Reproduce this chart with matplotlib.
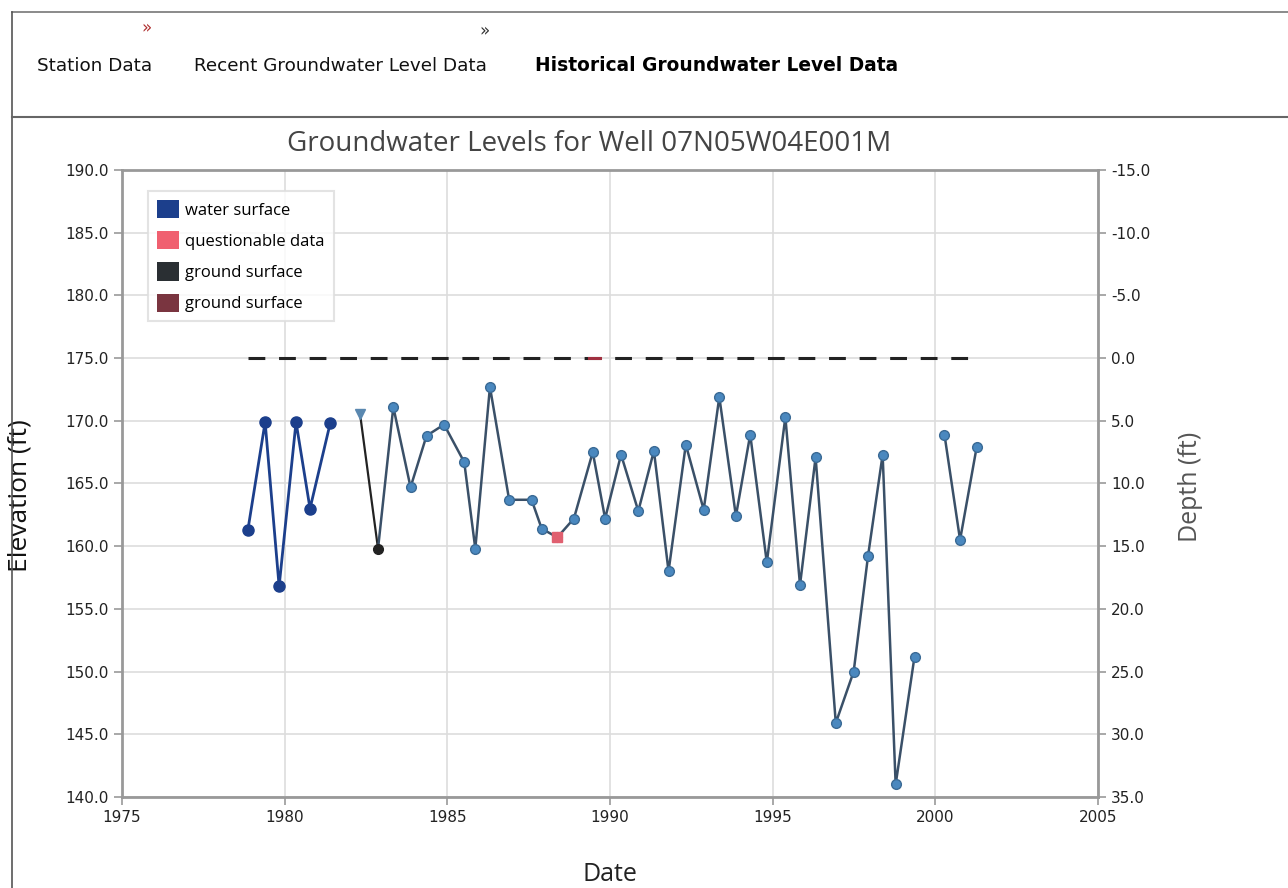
import matplotlib
matplotlib.use("Agg")
import matplotlib.pyplot as plt
from matplotlib.patches import Patch
from matplotlib.lines import Line2D

# ── data (decimal year, elevation ft) ─────────────────────────────
EARLY_YEARS = [1978.87, 1979.40, 1979.83, 1980.35, 1980.78, 1981.40]
EARLY_ELEV  = [161.3, 169.9, 156.8, 169.9, 163.0, 169.8]

GAP_YEARS = [1982.32, 1982.87]
GAP_ELEV  = [170.5, 159.8]

MAIN_YEARS = [1982.87, 1983.34, 1983.87, 1984.36, 1984.90, 1985.52, 1985.86,
              1986.31, 1986.90, 1987.59, 1987.90, 1988.38, 1988.89, 1989.47,
              1989.85, 1990.34, 1990.87, 1991.35, 1991.80, 1992.33, 1992.88,
              1993.36, 1993.87, 1994.31, 1994.82, 1995.39, 1995.84, 1996.32,
              1996.94, 1997.49, 1997.93, 1998.38, 1998.78, 1999.36]
MAIN_ELEV  = [159.8, 171.1, 164.7, 168.8, 169.7, 166.7, 159.8,
              172.7, 163.7, 163.7, 161.4, 160.7, 162.2, 167.5,
              162.2, 167.3, 162.8, 167.6, 158.0, 168.1, 162.9,
              171.9, 162.4, 168.9, 158.7, 170.3, 156.9, 167.1,
              145.9, 150.0, 159.2, 167.3, 141.0, 151.2]

LATE_YEARS = [2000.28, 2000.76, 2001.27]
LATE_ELEV  = [168.9, 160.5, 167.9]

QUEST_YEARS = [1988.38]
QUEST_ELEV  = [160.7]

GROUND_START = 1978.87
GROUND_END   = 2001.27
GROUND_ELEV  = 175.0
GROUND_QUEST = [1989.35, 1989.70]

Y_TICKS = [140, 145, 150, 155, 160, 165, 170, 175, 180, 185, 190]
DEPTH_TICKS = [35, 30, 25, 20, 15, 10, 5, 0, -5, -10, -15]
X_TICKS = [1975, 1980, 1985, 1990, 1995, 2000, 2005]

TICK_FONT = ["DejaVu Sans"]
TITLE_FONT = ["Open Sans", "DejaVu Sans"]

fig = plt.figure(figsize=(12.88, 8.88), dpi=100)

# ── page header (tabs) ───────────────────────────────────────────
fig.add_artist(Line2D([0.009, 1.0], [0.986, 0.986], color="#777777", lw=1.2))
fig.add_artist(Line2D([0.009, 0.009], [0.0, 0.986], color="#555555", lw=1.2))
fig.add_artist(Line2D([0.009, 1.0], [0.868, 0.868], color="#666666", lw=1.5))
fig.text(0.029, 0.926, "Station Data", fontsize=13.2, family=TICK_FONT,
         va="center", color="#111111")
fig.text(0.151, 0.926, "Recent Groundwater Level Data", fontsize=13.2,
         family=TICK_FONT, va="center", color="#111111")
fig.text(0.415, 0.926, "Historical Groundwater Level Data", fontsize=13.4,
         family=TICK_FONT, fontweight="bold", va="center", color="#000000")
fig.text(0.110, 0.968, "\u00bb", fontsize=12, color="#b03030", va="center")
fig.text(0.372, 0.965, "\u00bb", fontsize=12, color="#333333", va="center")

# ── chart ────────────────────────────────────────────────────────
ax = fig.add_axes([0.0947, 0.1025, 0.7578, 0.7061])
ax.set_xlim(1975, 2005)
ax.set_ylim(140, 190)
ax.set_xticks(X_TICKS)
ax.set_yticks(Y_TICKS)
ax.set_yticklabels([f"{v:.1f}" for v in Y_TICKS])
ax.grid(True, color="#dddddd", lw=1.2)
ax.set_axisbelow(True)
for s in ax.spines.values():
    s.set_color("#999999")
    s.set_linewidth(2)
ax.tick_params(axis="both", colors="#999999", labelcolor="#222222",
               labelsize=11, length=6, width=1.2)
for lab in ax.get_xticklabels() + ax.get_yticklabels():
    lab.set_family(TICK_FONT)

# ground surface dashes
ax.plot([GROUND_START, GROUND_END], [GROUND_ELEV, GROUND_ELEV],
        color="#222222", lw=2.2, linestyle=(0, (5.5, 4.5)), zorder=3)
ax.plot(GROUND_QUEST, [GROUND_ELEV, GROUND_ELEV], color="#a03040",
        lw=2.2, zorder=4)

ax.plot(EARLY_YEARS, EARLY_ELEV, color="#1c3f8c", lw=2, marker="o",
        markersize=8, zorder=5)
ax.plot(GAP_YEARS, GAP_ELEV, color="#222222", lw=1.6, zorder=4)
ax.plot(GAP_YEARS[:1], GAP_ELEV[:1], marker="v", color="#5a88b0",
        markersize=7, zorder=5)
ax.plot(GAP_YEARS[1:], GAP_ELEV[1:], marker="o", color="#222222",
        markersize=7, zorder=6)
ax.plot(MAIN_YEARS, MAIN_ELEV, color="#3a5068", lw=1.8, zorder=4)
ax.plot(MAIN_YEARS[1:], MAIN_ELEV[1:], linestyle="none", marker="o",
        markersize=7, markerfacecolor="#4a88bf", markeredgecolor="#3a6a95",
        zorder=5)
ax.plot(LATE_YEARS, LATE_ELEV, color="#3a5068", lw=1.8, marker="o",
        markersize=7, markerfacecolor="#4a88bf", markeredgecolor="#3a6a95",
        zorder=5)
ax.plot(QUEST_YEARS, QUEST_ELEV, linestyle="none", marker="s",
        markersize=7, color="#e06070", zorder=6)

ax.set_title("Groundwater Levels for Well 07N05W04E001M", fontsize=20,
             family=TITLE_FONT, color="#444444", pad=14, x=0.479)
ax.set_xlabel("Date", fontsize=18, family=TITLE_FONT, color="#222222")
ax.xaxis.set_label_coords(0.5, -0.103)
ax.set_ylabel("Elevation (ft)", fontsize=19, family=TITLE_FONT,
              color="#111111")
ax.yaxis.set_label_coords(-0.092, 0.48)

# depth axis
ax2 = ax.twinx()
ax2.set_ylim(175 - 140, 175 - 190)
ax2.set_yticks(DEPTH_TICKS)
ax2.set_yticklabels([f"{v:.1f}" for v in DEPTH_TICKS])
for s in ax2.spines.values():
    s.set_visible(False)
ax2.tick_params(axis="y", colors="#999999", labelcolor="#222222",
                labelsize=11, length=6, width=1.2)
for lab in ax2.get_yticklabels():
    lab.set_family(TICK_FONT)
ax2.set_ylabel("Depth (ft)", fontsize=18, family=TITLE_FONT, color="#555555")
ax2.yaxis.set_label_coords(1.082, 0.495)

handles = [
    Patch(facecolor="#1c3f8c", label="water surface"),
    Patch(facecolor="#f06070", label="questionable data"),
    Patch(facecolor="#2a2f33", label="ground surface"),
    Patch(facecolor="#7a3540", label="ground surface"),
]
leg = ax.legend(handles=handles, loc="upper left",
                bbox_to_anchor=(0.018, 0.98), frameon=True,
                handlelength=1.3, handleheight=1.3, labelspacing=0.75,
                borderpad=0.55, handletextpad=0.4, fancybox=False,
                prop={"family": TITLE_FONT, "size": 12})
leg.get_frame().set_edgecolor("#dddddd")
leg.get_frame().set_linewidth(1.5)

fig.savefig("out.png", dpi=100)
